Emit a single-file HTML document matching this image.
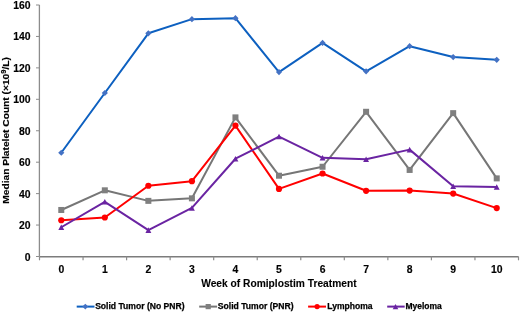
<!DOCTYPE html>
<html><head><meta charset="utf-8"><style>
html,body{margin:0;padding:0;background:#fff;}
body{width:520px;height:312px;overflow:hidden;}
svg{display:block;will-change:transform;}
text{font-family:"Liberation Sans",sans-serif;font-weight:bold;fill:#000;}
.t{font-size:10.4px;stroke:#000;stroke-width:0.15px;}
.tt{font-size:10.4px;stroke:#000;stroke-width:0.1px;}
.yt{font-size:9.8px;stroke:#000;stroke-width:0.15px;}
.lg{font-size:8.5px;stroke:#000;stroke-width:0.25px;}
</style></head><body>
<svg width="520" height="312" viewBox="0 0 520 312">
<line x1="39.4" y1="5.0" x2="39.4" y2="256.5" stroke="#8c8c8c" stroke-width="1.3"/>
<line x1="39.5" y1="256.75" x2="518.5" y2="256.75" stroke="#7c7c7c" stroke-width="1.7"/>
<line x1="36.0" y1="256.50" x2="39.5" y2="256.50" stroke="#8c8c8c" stroke-width="1"/>
<text x="30.5" y="260.50" text-anchor="end" class="t">0</text>
<line x1="36.0" y1="225.06" x2="39.5" y2="225.06" stroke="#8c8c8c" stroke-width="1"/>
<text x="30.5" y="229.06" text-anchor="end" class="t">20</text>
<line x1="36.0" y1="193.62" x2="39.5" y2="193.62" stroke="#8c8c8c" stroke-width="1"/>
<text x="30.5" y="197.62" text-anchor="end" class="t">40</text>
<line x1="36.0" y1="162.19" x2="39.5" y2="162.19" stroke="#8c8c8c" stroke-width="1"/>
<text x="30.5" y="166.19" text-anchor="end" class="t">60</text>
<line x1="36.0" y1="130.75" x2="39.5" y2="130.75" stroke="#8c8c8c" stroke-width="1"/>
<text x="30.5" y="134.75" text-anchor="end" class="t">80</text>
<line x1="36.0" y1="99.31" x2="39.5" y2="99.31" stroke="#8c8c8c" stroke-width="1"/>
<text x="30.5" y="103.31" text-anchor="end" class="t">100</text>
<line x1="36.0" y1="67.88" x2="39.5" y2="67.88" stroke="#8c8c8c" stroke-width="1"/>
<text x="30.5" y="71.88" text-anchor="end" class="t">120</text>
<line x1="36.0" y1="36.44" x2="39.5" y2="36.44" stroke="#8c8c8c" stroke-width="1"/>
<text x="30.5" y="40.44" text-anchor="end" class="t">140</text>
<line x1="36.0" y1="5.00" x2="39.5" y2="5.00" stroke="#8c8c8c" stroke-width="1"/>
<text x="30.5" y="9.00" text-anchor="end" class="t">160</text>
<line x1="39.50" y1="256.5" x2="39.50" y2="260.3" stroke="#8c8c8c" stroke-width="1.2"/>
<line x1="83.05" y1="256.5" x2="83.05" y2="260.3" stroke="#8c8c8c" stroke-width="1.2"/>
<line x1="126.59" y1="256.5" x2="126.59" y2="260.3" stroke="#8c8c8c" stroke-width="1.2"/>
<line x1="170.14" y1="256.5" x2="170.14" y2="260.3" stroke="#8c8c8c" stroke-width="1.2"/>
<line x1="213.68" y1="256.5" x2="213.68" y2="260.3" stroke="#8c8c8c" stroke-width="1.2"/>
<line x1="257.23" y1="256.5" x2="257.23" y2="260.3" stroke="#8c8c8c" stroke-width="1.2"/>
<line x1="300.77" y1="256.5" x2="300.77" y2="260.3" stroke="#8c8c8c" stroke-width="1.2"/>
<line x1="344.32" y1="256.5" x2="344.32" y2="260.3" stroke="#8c8c8c" stroke-width="1.2"/>
<line x1="387.86" y1="256.5" x2="387.86" y2="260.3" stroke="#8c8c8c" stroke-width="1.2"/>
<line x1="431.41" y1="256.5" x2="431.41" y2="260.3" stroke="#8c8c8c" stroke-width="1.2"/>
<line x1="474.95" y1="256.5" x2="474.95" y2="260.3" stroke="#8c8c8c" stroke-width="1.2"/>
<line x1="518.50" y1="256.5" x2="518.50" y2="260.3" stroke="#8c8c8c" stroke-width="1.2"/>
<text x="61.27" y="272.6" text-anchor="middle" class="t">0</text>
<text x="104.82" y="272.6" text-anchor="middle" class="t">1</text>
<text x="148.36" y="272.6" text-anchor="middle" class="t">2</text>
<text x="191.91" y="272.6" text-anchor="middle" class="t">3</text>
<text x="235.45" y="272.6" text-anchor="middle" class="t">4</text>
<text x="279.00" y="272.6" text-anchor="middle" class="t">5</text>
<text x="322.55" y="272.6" text-anchor="middle" class="t">6</text>
<text x="366.09" y="272.6" text-anchor="middle" class="t">7</text>
<text x="409.64" y="272.6" text-anchor="middle" class="t">8</text>
<text x="453.18" y="272.6" text-anchor="middle" class="t">9</text>
<text x="496.73" y="272.6" text-anchor="middle" class="t">10</text>
<polyline points="61.27,209.97 104.82,190.32 148.36,200.86 191.91,198.34 235.45,117.39 279.00,175.71 322.55,166.75 366.09,111.78 409.64,169.94 453.18,113.15 496.73,178.38" fill="none" stroke="#767676" stroke-width="2.0" stroke-linejoin="round"/>
<rect x="58.27" y="206.97" width="6.00" height="6.00" fill="#7f7f7f"/>
<rect x="101.82" y="187.32" width="6.00" height="6.00" fill="#7f7f7f"/>
<rect x="145.36" y="197.86" width="6.00" height="6.00" fill="#7f7f7f"/>
<rect x="188.91" y="195.34" width="6.00" height="6.00" fill="#7f7f7f"/>
<rect x="232.45" y="114.39" width="6.00" height="6.00" fill="#7f7f7f"/>
<rect x="276.00" y="172.71" width="6.00" height="6.00" fill="#7f7f7f"/>
<rect x="319.55" y="163.75" width="6.00" height="6.00" fill="#7f7f7f"/>
<rect x="363.09" y="108.78" width="6.00" height="6.00" fill="#7f7f7f"/>
<rect x="406.64" y="166.94" width="6.00" height="6.00" fill="#7f7f7f"/>
<rect x="450.18" y="110.15" width="6.00" height="6.00" fill="#7f7f7f"/>
<rect x="493.73" y="175.38" width="6.00" height="6.00" fill="#7f7f7f"/>
<polyline points="61.27,220.27 104.82,217.52 148.36,185.77 191.91,181.21 235.45,125.56 279.00,188.91 322.55,173.50 366.09,190.80 409.64,190.54 453.18,193.55 496.73,208.09" fill="none" stroke="#ff0000" stroke-width="2.0" stroke-linejoin="round"/>
<circle cx="61.27" cy="220.27" r="3.1" fill="#ff0000"/>
<circle cx="104.82" cy="217.52" r="3.1" fill="#ff0000"/>
<circle cx="148.36" cy="185.77" r="3.1" fill="#ff0000"/>
<circle cx="191.91" cy="181.21" r="3.1" fill="#ff0000"/>
<circle cx="235.45" cy="125.56" r="3.1" fill="#ff0000"/>
<circle cx="279.00" cy="188.91" r="3.1" fill="#ff0000"/>
<circle cx="322.55" cy="173.50" r="3.1" fill="#ff0000"/>
<circle cx="366.09" cy="190.80" r="3.1" fill="#ff0000"/>
<circle cx="409.64" cy="190.54" r="3.1" fill="#ff0000"/>
<circle cx="453.18" cy="193.55" r="3.1" fill="#ff0000"/>
<circle cx="496.73" cy="208.09" r="3.1" fill="#ff0000"/>
<polyline points="61.27,227.26 104.82,201.80 148.36,230.09 191.91,207.93 235.45,158.73 279.00,136.57 322.55,157.79 366.09,159.20 409.64,149.61 453.18,186.24 496.73,186.94" fill="none" stroke="#6a24a2" stroke-width="2.0" stroke-linejoin="round"/>
<path d="M61.27 224.46L64.22 230.06L58.32 230.06Z" fill="#6a24a2"/>
<path d="M104.82 199.00L107.77 204.60L101.87 204.60Z" fill="#6a24a2"/>
<path d="M148.36 227.29L151.31 232.89L145.41 232.89Z" fill="#6a24a2"/>
<path d="M191.91 205.13L194.86 210.73L188.96 210.73Z" fill="#6a24a2"/>
<path d="M235.45 155.93L238.40 161.53L232.50 161.53Z" fill="#6a24a2"/>
<path d="M279.00 133.77L281.95 139.37L276.05 139.37Z" fill="#6a24a2"/>
<path d="M322.55 154.99L325.50 160.59L319.60 160.59Z" fill="#6a24a2"/>
<path d="M366.09 156.40L369.04 162.00L363.14 162.00Z" fill="#6a24a2"/>
<path d="M409.64 146.81L412.59 152.41L406.69 152.41Z" fill="#6a24a2"/>
<path d="M453.18 183.44L456.13 189.04L450.23 189.04Z" fill="#6a24a2"/>
<path d="M496.73 184.14L499.68 189.74L493.78 189.74Z" fill="#6a24a2"/>
<polyline points="61.27,152.76 104.82,93.03 148.36,33.29 191.91,19.15 235.45,18.20 279.00,72.12 322.55,42.88 366.09,71.33 409.64,46.18 453.18,57.03 496.73,59.86" fill="none" stroke="#0d60c0" stroke-width="2.0" stroke-linejoin="round"/>
<path d="M61.27 149.66L64.37 152.76L61.27 155.86L58.17 152.76Z" fill="#4472c4"/>
<path d="M104.82 89.93L107.92 93.03L104.82 96.12L101.72 93.03Z" fill="#4472c4"/>
<path d="M148.36 30.19L151.46 33.29L148.36 36.39L145.26 33.29Z" fill="#4472c4"/>
<path d="M191.91 16.05L195.01 19.15L191.91 22.25L188.81 19.15Z" fill="#4472c4"/>
<path d="M235.45 15.10L238.55 18.20L235.45 21.30L232.35 18.20Z" fill="#4472c4"/>
<path d="M279.00 69.02L282.10 72.12L279.00 75.22L275.90 72.12Z" fill="#4472c4"/>
<path d="M322.55 39.78L325.65 42.88L322.55 45.98L319.45 42.88Z" fill="#4472c4"/>
<path d="M366.09 68.23L369.19 71.33L366.09 74.43L362.99 71.33Z" fill="#4472c4"/>
<path d="M409.64 43.08L412.74 46.18L409.64 49.28L406.54 46.18Z" fill="#4472c4"/>
<path d="M453.18 53.93L456.28 57.03L453.18 60.13L450.08 57.03Z" fill="#4472c4"/>
<path d="M496.73 56.76L499.83 59.86L496.73 62.96L493.63 59.86Z" fill="#4472c4"/>
<text x="201.2" y="286.6" class="tt" textLength="155.4" lengthAdjust="spacingAndGlyphs">Week of Romiplostim Treatment</text>
<text transform="translate(9.0,130.4) rotate(-90)" text-anchor="middle" class="yt" textLength="146.6" lengthAdjust="spacingAndGlyphs">Median Platelet Count (×10<tspan dy="-2.6" font-size="7.3">9</tspan><tspan dy="2.6">/L)</tspan></text>
<line x1="76.7" y1="306.6" x2="94.5" y2="306.6" stroke="#0d60c0" stroke-width="2.0"/>
<path d="M85.30 303.70L88.20 306.60L85.30 309.50L82.40 306.60Z" fill="#4472c4"/>
<text x="95.15" y="309.35" class="lg" textLength="89.40" lengthAdjust="spacingAndGlyphs">Solid Tumor (No PNR)</text>
<line x1="199.2" y1="306.6" x2="217.1" y2="306.6" stroke="#767676" stroke-width="2.0"/>
<rect x="205.60" y="304.00" width="5.20" height="5.20" fill="#7f7f7f"/>
<text x="217.85" y="309.35" class="lg" textLength="75.70" lengthAdjust="spacingAndGlyphs">Solid Tumor (PNR)</text>
<line x1="308.1" y1="306.6" x2="326.0" y2="306.6" stroke="#ff0000" stroke-width="2.0"/>
<circle cx="317.10" cy="306.60" r="2.6" fill="#ff0000"/>
<text x="327.25" y="309.35" class="lg" textLength="45.30" lengthAdjust="spacingAndGlyphs">Lymphoma</text>
<line x1="387.2" y1="306.6" x2="404.7" y2="306.6" stroke="#6a24a2" stroke-width="2.0"/>
<path d="M395.50 304.00L398.30 309.20L392.70 309.20Z" fill="#6a24a2"/>
<text x="405.45" y="309.35" class="lg" textLength="36.30" lengthAdjust="spacingAndGlyphs">Myeloma</text>
</svg>
</body></html>
